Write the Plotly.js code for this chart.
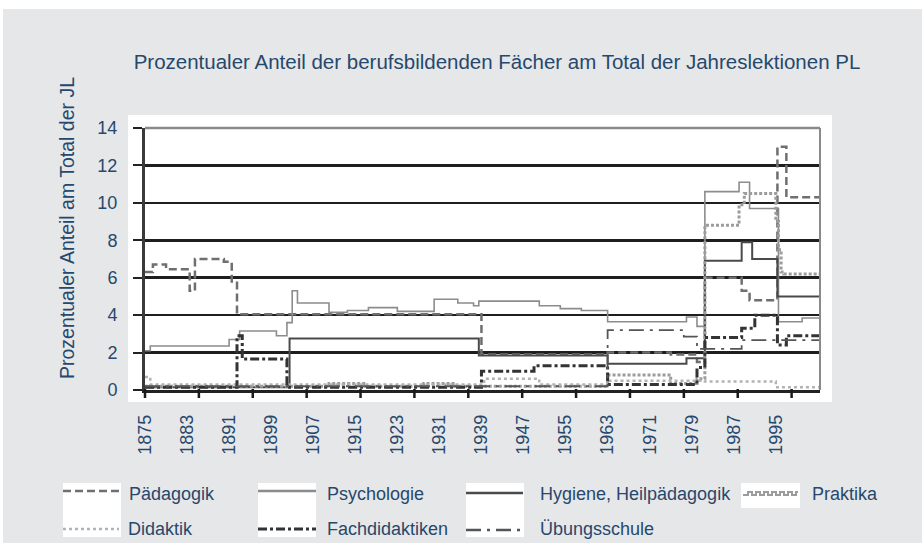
<!DOCTYPE html>
<html><head><meta charset="utf-8">
<script src="https://cdn.plot.ly/plotly-3.0.1.min.js"></script>
<style>html,body{margin:0;padding:0;background:#fff}#chart{width:922px;height:543px}</style>
</head><body><div id="chart"></div>
<script>
// ---- data (change points of the yearly step series) ----
const xTickYears = [1875,1883,1891,1899,1907,1915,1923,1931,1939,1947,1955,1963,1971,1979,1987,1995];
const yTickVals = [0,2,4,6,8,10,12,14];

const paedX = [1875,1876.5,1879,1883.5,1884.5,1890,1891.5,1892.5,1939,1963,1975,1980,1981.5,1988.5,1990,1995.3,1997,2003.5];
const paedY = [6.3,6.7,6.45,5.3,7.0,6.85,5.8,4.05,1.9,2.0,1.9,1.5,6.0,5.3,4.8,13.0,10.3,10.3];

const psyX = [1875,1876,1891,1893,1900,1902,1903,1904,1910,1913.5,1917.5,1923,1930,1934.5,1937.5,1938.5,1950,1954,1958,1963,1978,1980,1981.5,1988,1990,1995.5,2000,2003.5];
const psyY = [2.1,2.35,2.7,3.15,2.9,3.6,5.3,4.65,4.15,4.25,4.4,4.2,4.85,4.65,4.5,4.75,4.5,4.35,4.25,3.65,3.9,3.4,10.6,11.1,9.7,3.65,3.85,3.85];

const hygX = [1875,1902.5,1938.5,1963,1978,1981.5,1988.5,1990.5,1995.3,2003.5];
const hygY = [0.15,2.75,1.85,1.4,1.7,6.9,7.9,7.0,5.0,5.0];

const praktX = [1875,1910,1917,1928,1934,1963,1975,1980,1981.5,1988,1989,1995,1995.5,1996,1996.5,2003.5];
const praktY = [0.2,0.35,0.2,0.35,0.2,0.8,0.35,0.6,8.8,9.9,10.5,9.0,7.5,6.3,6.2,6.2];

const didX = [1875,1876,1939.5,1950,1963,1981.5,1995,2003.5];
const didY = [0.7,0.3,0.6,0.3,0.5,0.45,0.15,0.15];

const fachX = [1875,1892.5,1893.5,1902,1939,1949,1963,1980,1981.5,1988.5,1991,1995.3,1997,2003.5];
const fachY = [0.15,2.9,1.65,0.15,1.0,1.3,0.3,1.2,2.8,3.3,4.0,2.4,2.9,2.9];

const uebX = [1875,1963,1977.5,1980,1981.5,1988.5,2003.5];
const uebY = [0.2,3.2,2.85,2.2,2.2,2.67,2.67];

const seriesNames = ['Pädagogik','Psychologie','Hygiene, Heilpädagogik','Praktika','Didaktik','Fachdidaktiken','Übungsschule'];

// ---- geometry helpers (pixel -> paper) ----
const L=145, R=820, T=128, B=390;
const px = x => (x-L)/(R-L);
const py = y => (B-y)/(B-T);
const TXT = '#27486d';
const FONT = 'Liberation Sans, Arial, sans-serif';
const XMIN = 1875, XMAX = 2003.4;
const yearToPaper = yr => (yr-XMIN)/(XMAX-XMIN);
const TICK_STEP = 10.25;

const styles = [
  {color:'#6f6f6f', width:2.5, dash:'8px,4px'},
  {color:'#8c8c8c', width:1.6, dash:'solid'},
  {color:'#4a4a4a', width:2, dash:'solid'},
  {color:'#9c9c9c', width:3, dash:'3px,2px'},
  {color:'#b3b3b3', width:2.5, dash:'dot'},
  {color:'#333333', width:3, dash:'dashdot'},
  {color:'#555555', width:1.8, dash:'longdashdot'}
];
const xs=[paedX,psyX,hygX,praktX,didX,fachX,uebX];
const ys=[paedY,psyY,hygY,praktY,didY,fachY,uebY];
const traces = seriesNames.map((n,i)=>({
  type:'scatter', mode:'lines', name:n, x:xs[i], y:ys[i],
  line:{shape:'hv', color:styles[i].color, width:styles[i].width, dash:styles[i].dash},
  showlegend:false, hoverinfo:'skip'
}));

const shapes = [
  {type:'rect', xref:'paper', yref:'paper', x0:px(3), x1:px(922), y0:py(543), y1:py(9), fillcolor:'#e6e7e8', line:{width:0}, layer:'below'},
  {type:'rect', xref:'paper', yref:'paper', x0:px(128), x1:px(832), y0:py(402), y1:py(115), fillcolor:'#ffffff', line:{width:0}, layer:'below'},
  {type:'line', xref:'paper', yref:'paper', x0:0, x1:1, y0:1, y1:1, line:{color:'#8a8a8a', width:2.5}},
  {type:'line', xref:'paper', yref:'paper', x0:1, x1:1, y0:0, y1:1, line:{color:'#8a8a8a', width:2}}
];
// x-axis tick marks (spaced independently of the labels, as in the original)
let tickPath = '';
for (let k=0; XMIN+k*TICK_STEP<=XMAX; k++) {
  const xp = yearToPaper(XMIN+k*TICK_STEP);
  tickPath += 'M'+xp.toFixed(5)+','+py(389).toFixed(5)+' L'+xp.toFixed(5)+','+py(398).toFixed(5)+' ';
}
shapes.push({type:'path', xref:'paper', yref:'paper', path:tickPath, line:{color:'#1a1a1a', width:2.5}, layer:'above'});

const annotations = [
  {xref:'paper', yref:'paper', x:px(67), y:py(228), text:'Prozentualer Anteil am Total der JL', textangle:-90, showarrow:false, xanchor:'center', yanchor:'middle', font:{family:FONT, size:19.5, color:TXT}}
];

const legendItems = [
  {i:0, sx0:63, sx1:119, sy:491, tx:127, ty:494},
  {i:1, sx0:258, sx1:316, sy:491, tx:325, ty:494},
  {i:2, sx0:466, sx1:523, sy:493, tx:538, ty:494},
  {i:3, sx0:744, sx1:798, sy:494, tx:810, ty:494},
  {i:4, sx0:63, sx1:119, sy:529, tx:126, ty:529},
  {i:5, sx0:258, sx1:316, sy:529, tx:325, ty:529},
  {i:6, sx0:466, sx1:523, sy:530, tx:538, ty:529}
];
[[63,121,483,537],[258,316,483,537],[466,524,483,537],[741,800,483,508]].forEach(b=>{
  shapes.push({type:'rect', xref:'paper', yref:'paper', x0:px(b[0]), x1:px(b[1]), y0:py(b[3]), y1:py(b[2]), fillcolor:'#ffffff', line:{width:0}, layer:'below'});
});
legendItems.forEach(it=>{
  const st = styles[it.i];
  if (it.i===3) {
    let p='M '+px(it.sx0)+' '+py(it.sy);
    let up=false;
    for (let x=it.sx0; x<it.sx1; x+=4) {
      const yy = up? it.sy-2 : it.sy+1;
      p += ' L '+px(x)+' '+py(yy)+' L '+px(Math.min(x+4,it.sx1))+' '+py(yy);
      up=!up;
    }
    shapes.push({type:'path', xref:'paper', yref:'paper', path:p, line:{color:st.color, width:2}});
  } else {
    shapes.push({type:'line', xref:'paper', yref:'paper', x0:px(it.sx0), x1:px(it.sx1), y0:py(it.sy), y1:py(it.sy), line:{color:st.color, width:Math.max(st.width,2.5), dash:st.dash}});
  }
  annotations.push({xref:'paper', yref:'paper', x:px(it.tx), y:py(it.ty), text:seriesNames[it.i], showarrow:false, xanchor:'left', yanchor:'middle', font:{family:FONT, size:18, color:TXT}});
});

const layout = {
  width:922, height:543,
  margin:{l:L, r:922-R, t:T, b:543-B, pad:0},
  paper_bgcolor:'#ffffff', plot_bgcolor:'rgba(0,0,0,0)',
  font:{family:FONT, size:18, color:TXT},
  title:{text:'Prozentualer Anteil der berufsbildenden Fächer am Total der Jahreslektionen PL', xref:'container', yref:'container', x:497/922, y:1-62/543, xanchor:'center', yanchor:'middle', font:{family:FONT, size:20.5, color:TXT}},
  xaxis:{range:[XMIN,XMAX], tickmode:'array', tickvals:xTickYears, ticktext:xTickYears.map(String), tickangle:-90, ticks:'', showgrid:false, zeroline:false, showline:true, linecolor:'#222', linewidth:2.5, tickfont:{family:FONT, size:18, color:TXT}, ticklabelstandoff:15, fixedrange:true},
  yaxis:{range:[0,14], tickmode:'array', tickvals:yTickVals, ticks:'outside', ticklen:9, tickwidth:2, tickcolor:'#222', showgrid:true, gridcolor:'#1e1e1e', gridwidth:2.5, zeroline:false, showline:true, linecolor:'#3a3a3a', linewidth:3, tickfont:{family:FONT, size:18, color:TXT}, ticklabelstandoff:12, fixedrange:true},
  shapes:shapes, annotations:annotations, showlegend:false
};
Plotly.newPlot('chart', traces, layout, {staticPlot:true, displayModeBar:false});
</script></body></html>
